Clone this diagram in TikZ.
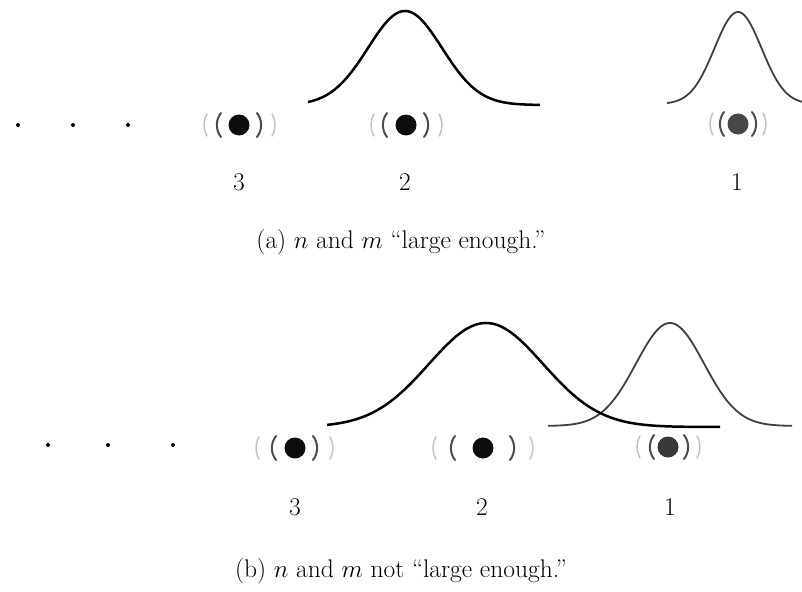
\documentclass[tikz,border=0pt]{standalone}
\begin{document}
\begin{tikzpicture}[x=1pt,y=-1pt,
  txt/.style={font=\fontsize{25.5}{30}\selectfont, inner sep=0pt},
  big/.style={line width=2.5pt, black},
  small/.style={line width=1.8pt, black!75},
  inparen/.style={line width=2pt, black!70, line cap=round},
  outparen/.style={line width=1.4pt, black!25, line cap=round},
  pics/wave/.style n args={4}{code={
    \fill[wavedot] (0,0) circle (10.5);
    \draw[inparen] (#1+4,-12) .. controls (#1-1.5,-5) and (#1-1.5,5) .. (#1+4,12);
    \draw[inparen] (#2-4,-12) .. controls (#2+1.5,-5) and (#2+1.5,5) .. (#2-4,12);
    \draw[outparen] (#3+3,-11) .. controls (#3-1,-4) and (#3-1,4) .. (#3+3,11);
    \draw[outparen] (#4-3,-11) .. controls (#4+1,-4) and (#4+1,4) .. (#4-3,11);
  }},
  wavedot/.style={black!95}
]
\useasboundingbox (0,0) rectangle (802,591);

% ---------- (a) ----------
\fill (18,125) circle (2);
\fill (73,125) circle (2);
\fill (128,125) circle (2);
\pic (a3) at (239,125) {wave={-22}{22}{-35}{36}};
\pic (a2) at (406,125) {wave={-23}{22}{-35}{36}};
\begin{scope}[wavedot/.style={black!72}]
\pic (a1) at (738,124) {wave={-18}{18}{-28}{28}};
\end{scope}
\node[txt] (la3) at (239,182) {3};
\node[txt] (la2) at (405,182) {2};
\node[txt] (la1) at (737,182) {1};
\draw[big] plot[domain=308:540, samples=120]
  (\x, {105 - 94*exp(-0.5*((\x-405)/37)*((\x-405)/37))});
\draw[small] plot[domain=667:802, samples=100]
  (\x, {104 - 92*exp(-0.5*((\x-738)/23.5)*((\x-738)/23.5))});
\node[txt] (capa) at (401,242) {(a) $n$ and $m$ ``large enough.''};

% ---------- (b) ----------
\fill (48,445) circle (2);
\fill (108,445) circle (2);
\fill (173,445) circle (2);
\pic (b3) at (295,448) {wave={-23}{22}{-39}{38}};
\pic (b2) at (483,448) {wave={-32}{31}{-50}{50}};
\begin{scope}[wavedot/.style={black!78}]
\pic (b1) at (668,447) {wave={-18}{20}{-31}{32}};
\end{scope}
\node[txt] (lb3) at (295,507) {3};
\node[txt] (lb2) at (482,507) {2};
\node[txt] (lb1) at (670,507) {1};
\draw[small] plot[domain=548:792, samples=120]
  (\x, {426 - 103*exp(-0.5*((\x-670)/34)*((\x-670)/34))});
\draw[big] plot[domain=327:720, samples=160]
  (\x, {427 - 104*exp(-0.5*((\x-486)/57)*((\x-486)/57))});
\node[txt] (capb) at (401,571) {(b) $n$ and $m$ not ``large enough.''};
\end{tikzpicture}
\end{document}
